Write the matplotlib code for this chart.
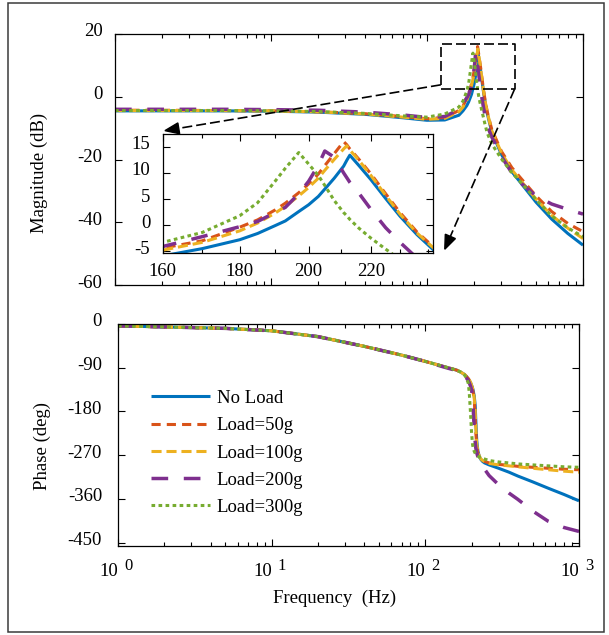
import matplotlib
matplotlib.use("Agg")
import matplotlib.pyplot as plt
from matplotlib import transforms
from matplotlib.patches import Rectangle, Polygon
from matplotlib.lines import Line2D
from matplotlib.ticker import FixedLocator, FixedFormatter, NullFormatter
import numpy as np

plt.rcParams['font.family'] = ['Liberation Serif', 'DejaVu Serif']
plt.rcParams['axes.unicode_minus'] = False

# ---------------- measured frequency response ----------------
freq_hz = [1, 2, 5, 10, 20, 40, 70, 100, 130, 160, 170, 180, 185, 190, 193, 197,
           200, 203, 205, 208, 211, 212, 213, 216, 220, 225, 230, 236, 243, 260,
           300, 350, 400, 500, 630, 800, 1000]

mag_no_load = [-4.5, -4.5, -4.5, -4.6, -4.9, -5.6, -6.7, -7.5, -7.4, -5.9, -4.5, -2.8,
               -1.6, -0.1, 0.8, 2.6, 3.9, 5.5, 6.9, 9.0, 11.3, 12.4, 13.4, 11.4, 8.7,
               5.1, 1.7, -1.8, -5.2, -11.2, -18.4, -23.9, -27.5, -33.6, -39.0, -43.6,
               -47.3]
mag_50g = [-4.3, -4.3, -4.4, -4.5, -4.8, -5.4, -6.3, -7.0, -6.6, -4.4, -3.0, -0.4,
           1.0, 2.9, 4.2, 6.2, 7.9, 9.8, 11.4, 13.7, 16.0, 15.4, 14.6, 12.6, 9.8,
           6.0, 2.4, -1.3, -4.6, -10.4, -17.4, -22.6, -26.0, -31.6, -36.6, -40.4,
           -43.0]
mag_100g = [-4.4, -4.4, -4.4, -4.5, -4.8, -5.5, -6.5, -7.2, -6.9, -4.8, -3.3, -1.1,
            0.4, 2.3, 3.6, 5.6, 7.2, 9.0, 10.5, 12.6, 14.6, 15.2, 14.4, 12.4, 9.5,
            5.7, 2.1, -1.5, -4.8, -10.8, -17.9, -23.3, -26.8, -32.6, -37.8, -41.9,
            -45.2]
mag_200g = [-4.0, -4.0, -4.0, -4.1, -4.3, -4.9, -5.8, -6.6, -6.3, -4.1, -2.2, -0.3,
            0.7, 2.4, 3.4, 6.0, 8.4, 11.5, 14.2, 13.0, 10.0, 9.1, 8.2, 6.1, 3.0,
            -0.5, -3.3, -6.3, -9.2, -12.8, -19.0, -24.3, -27.5, -31.6, -34.2, -35.9,
            -37.4]
mag_300g = [-4.4, -4.4, -4.4, -4.5, -4.7, -5.3, -6.1, -6.5, -5.5, -3.3, -1.4, 1.8,
            4.3, 8.4, 10.9, 13.9, 11.7, 9.5, 7.6, 4.7, 2.4, 1.8, 1.1, -0.6, -2.5,
            -4.6, -6.6, -9.0, -11.5, -15.0, -19.8, -24.2, -27.3, -32.8, -38.0, -41.8,
            -44.6]

phase_no_load = [-4, -6, -9, -14, -26, -46, -64, -77, -87, -95, -99, -104, -108, -113,
                 -116, -121, -126, -132, -138, -148, -167, -182, -198, -240, -262,
                 -274, -279, -283, -286, -290, -297, -305, -313, -325, -338, -351,
                 -364]
phase_50g = [-4, -6, -9, -14, -26, -46, -64, -77, -87, -95, -99, -104, -108, -112,
             -115, -120, -127, -134, -142, -155, -190, -207, -222, -251, -266, -274,
             -278, -281, -283, -286, -289, -291, -293, -295, -297, -299, -300]
phase_100g = [-4, -6, -9, -14, -26, -46, -64, -77, -87, -95, -99, -104, -108, -112,
              -115, -120, -126, -133, -140, -152, -177, -195, -212, -247, -264, -273,
              -278, -281, -283, -287, -290, -292, -294, -297, -300, -303, -305]
phase_200g = [-4, -6, -9, -14, -26, -46, -64, -77, -88, -96, -100, -106, -111, -116,
              -121, -128, -136, -150, -175, -215, -242, -249, -255, -265, -274, -281,
              -287, -293, -299, -312, -331, -348, -361, -385, -406, -419, -427]
phase_300g = [-4, -6, -9, -14, -26, -46, -64, -77, -87, -95, -99, -105, -112, -121,
              -140, -185, -225, -248, -256, -262, -266, -267, -268, -270, -272, -274,
              -275, -277, -278, -281, -284, -286, -288, -290, -292, -294, -295]

series_labels = ['No Load', 'Load=50g', 'Load=100g', 'Load=200g', 'Load=300g']
mag_series = [mag_no_load, mag_50g, mag_100g, mag_200g, mag_300g]
phase_series = [phase_no_load, phase_50g, phase_100g, phase_200g, phase_300g]

mag_ticks = [-60, -40, -20, 0, 20]
phase_ticks = [-450, -360, -270, -180, -90, 0]
inset_yticks = [-5, 0, 5, 10, 15]
inset_xticks = [160, 180, 200, 220]
decades = [0, 1, 2, 3]

# zoomed region marked on the magnitude plot
zoom_box_hz = (122.6, 364.0)
zoom_box_db = (2.4, 16.7)
arrow_left_tip = (2.09, -10.8)
arrow_right_tip = (130.0, -48.6)

# ---------------- styling ----------------
colors = ['#0072BD', '#D95319', '#EDB120', '#7E2F8E', '#77AC30']
linestyles = ['-', (0, (3.0, 2.0)), (0, (3.3, 1.6)), (0, (4.8, 4.5)), (0, (1.2, 1.1))]
linewidths = [2.2, 2.2, 2.2, 2.5, 2.2]
FS = 13.5

W, H = 609, 635
fig = plt.figure(figsize=(W / 100, H / 100), dpi=100)


def px_axes(left, top, right, bottom):
    return [left / W, (H - bottom) / H, (right - left) / W, (bottom - top) / H]


ax_mag = fig.add_axes(px_axes(115, 34, 583, 285))
ax_ph = fig.add_axes(px_axes(118, 324, 579, 546))
ax_in = fig.add_axes(px_axes(162.7, 134.3, 433.3, 253.3), zorder=5)

for i in range(5):
    kw = dict(color=colors[i], lw=linewidths[i], ls=linestyles[i],
              dash_capstyle='butt', solid_capstyle='butt')
    ax_mag.plot(freq_hz, mag_series[i], **kw)
    ax_ph.plot(freq_hz, phase_series[i], label=series_labels[i], **kw)
    ax_in.plot(freq_hz, mag_series[i], **kw)

label_shift = transforms.ScaledTranslation(0, 4 / 100, fig.dpi_scale_trans)

for ax in (ax_mag, ax_ph, ax_in):
    ax.set_xscale('log')
    ax.tick_params(which='both', direction='in', top=True, right=True,
                   labelsize=FS, width=0.8, colors='black')
    ax.tick_params(which='major', length=5)
    ax.tick_params(which='minor', length=3)
    for s in ax.spines.values():
        s.set_linewidth(0.9)

ax_mag.set_xlim(1, 1000)
ax_mag.set_ylim(-60, 20)
ax_mag.set_yticks(mag_ticks)
ax_mag.tick_params(labelbottom=False, pad=9)
ax_mag.set_ylabel('Magnitude (dB)', fontsize=FS)
ax_mag.yaxis.set_label_coords(-0.143, 0.446)

ax_ph.set_xlim(1, 1000)
ax_ph.set_ylim(-457, 0)
ax_ph.set_yticks(phase_ticks)
ax_ph.tick_params(labelbottom=False)
ax_ph.tick_params(axis='y', pad=11.5)
ax_ph.set_ylabel('Phase (deg)', fontsize=FS)
ax_ph.yaxis.set_label_coords(-0.145, 0.45)
ax_ph.set_xlabel('Frequency  (Hz)', fontsize=FS)
ax_ph.xaxis.set_label_coords(0.4707, -0.198)

# decade labels written as base and raised exponent
blend = transforms.blended_transform_factory(ax_ph.transData, ax_ph.transAxes)
exp_shift = transforms.ScaledTranslation(6 / 100, 0, fig.dpi_scale_trans)
for d in decades:
    ax_ph.text(10.0 ** d, -0.135, '10', transform=blend, ha='right', va='baseline',
               fontsize=FS)
    ax_ph.text(10.0 ** d, -0.108, str(d), transform=blend + exp_shift, ha='left',
               va='baseline', fontsize=12)

ax_in.set_xlim(160, 242)
ax_in.set_ylim(-5.4, 17.4)
ax_in.xaxis.set_major_locator(FixedLocator(inset_xticks))
ax_in.xaxis.set_minor_locator(FixedLocator([170, 190, 210, 230, 240]))
ax_in.xaxis.set_major_formatter(FixedFormatter([str(t) for t in inset_xticks]))
ax_in.xaxis.set_minor_formatter(NullFormatter())
ax_in.set_yticks(inset_yticks)
ax_in.tick_params(axis='y', pad=9)
ax_in.tick_params(axis='x', pad=7)
ax_in.set_facecolor('white')

for ax in (ax_mag, ax_ph, ax_in):
    for lab in ax.get_yticklabels():
        lab.set_transform(lab.get_transform() + label_shift)

leg = ax_ph.legend(loc='upper left', bbox_to_anchor=(0.0716, 0.703), frameon=False,
                   fontsize=FS, handlelength=3.15, handletextpad=0.35,
                   labelspacing=0.54, borderpad=0, borderaxespad=0)

# dashed zoom box
bx, by = zoom_box_hz, zoom_box_db
ax_mag.plot([bx[0], bx[1], bx[1], bx[0], bx[0]], [by[0], by[0], by[1], by[1], by[0]],
            color='black', lw=1.2, ls=(0, (6, 2.4)), clip_on=False, zorder=6)

# dashed arrows with filled heads, drawn in pixel space
fig.canvas.draw()


def dashed_arrow(start, tip):
    p0 = ax_mag.transData.transform(start)
    p1 = ax_mag.transData.transform(tip)
    v = p1 - p0
    u = v / np.hypot(*v)
    n = np.array([-u[1], u[0]])
    base = p1 - 14 * u
    fig.add_artist(Line2D([p0[0], base[0]], [p0[1], base[1]], transform=None,
                          color='black', lw=1.2, ls=(0, (6, 2.4)), zorder=10))
    fig.add_artist(Polygon([p1, base + 5.5 * n, base - 5.5 * n], closed=True,
                           transform=None, color='black', zorder=10))


dashed_arrow((bx[0], by[0] + 1.4), arrow_left_tip)
dashed_arrow((bx[1], by[0]), arrow_right_tip)

fig.add_artist(Rectangle((7.5 / W, 3 / H), 596 / W, 629 / H, transform=fig.transFigure,
                         fill=False, ec='#3a3a3a', lw=1.1))

fig.savefig('out.png', dpi=100)
